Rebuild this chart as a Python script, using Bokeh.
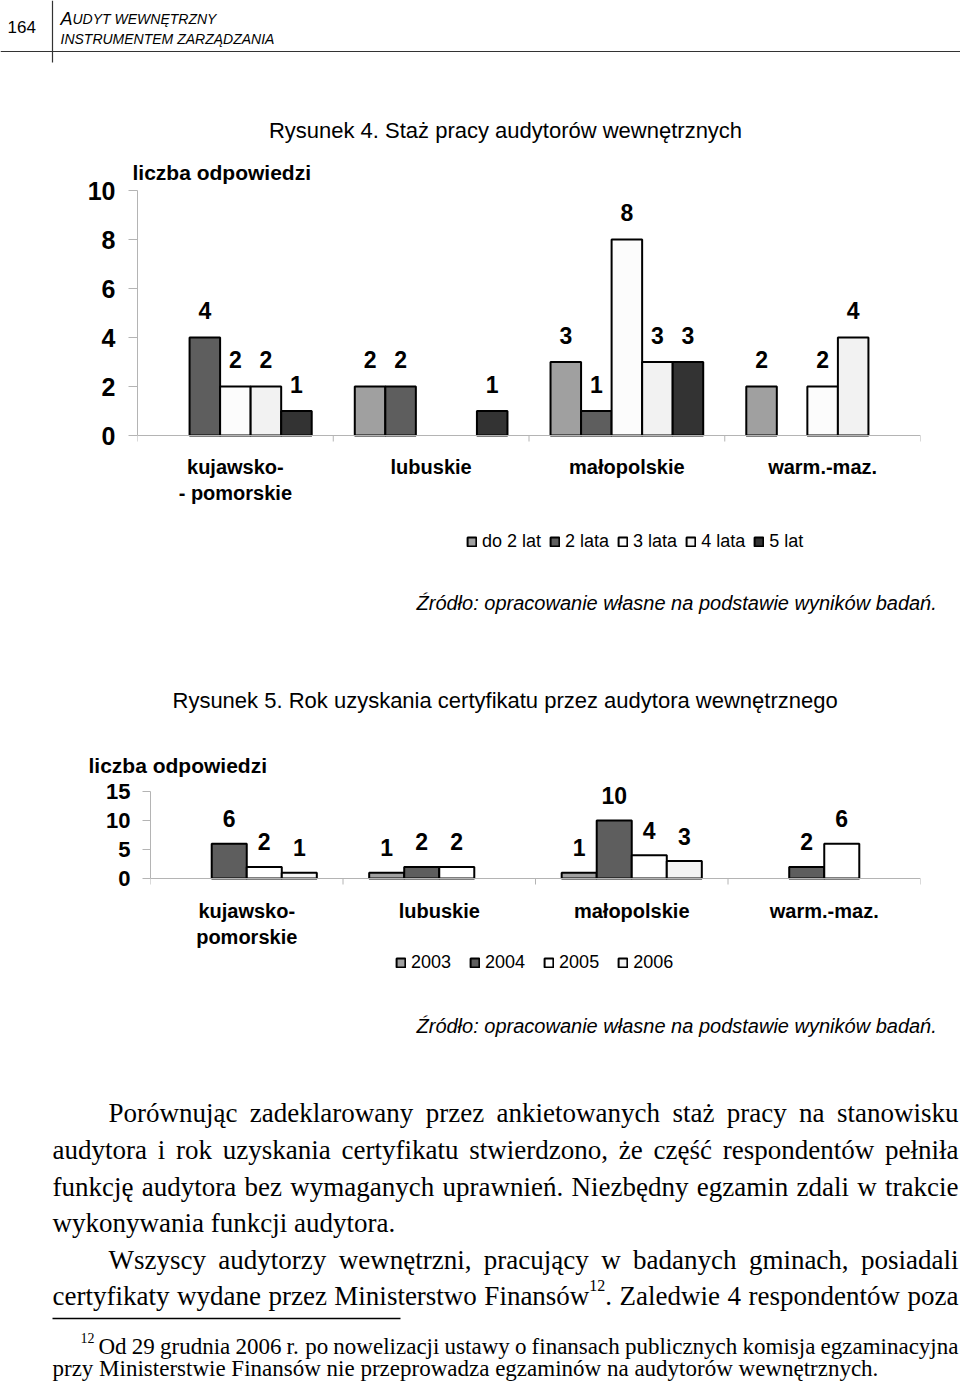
from bokeh.plotting import figure
from bokeh.models import ColumnDataSource, FactorRange, Range1d, Legend, LegendItem
from bokeh.layouts import column
from bokeh.transform import dodge
from bokeh.embed import file_html
from bokeh.resources import INLINE
from bokeh.core.properties import value

SANS = "Liberation Sans"
SERIF = "Liberation Serif"

# ---------------- Rysunek 4 data ----------------
regions4 = ["kujawsko-\n- pomorskie", "lubuskie", "małopolskie", "warm.-maz."]
series4 = ["do 2 lat", "2 lata", "3 lata", "4 lata", "5 lat"]
do_2_lat = [0, 2, 3, 2]
lata_2 = [4, 2, 1, 0]
lata_3 = [2, 0, 8, 2]
lata_4 = [2, 0, 3, 4]
lat_5 = [1, 1, 3, 0]
colors4 = ["#a0a0a0", "#5e5e5e", "#fcfcfc", "#f2f2f2", "#333333"]
yticks4 = [0, 2, 4, 6, 8, 10]

# ---------------- Rysunek 5 data ----------------
regions5 = ["kujawsko-\npomorskie", "lubuskie", "małopolskie", "warm.-maz."]
series5 = ["2003", "2004", "2005", "2006"]
y2003 = [0, 1, 1, 0]
y2004 = [6, 2, 10, 2]
y2005 = [2, 2, 4, 6]
y2006 = [1, 0, 3, 0]
colors5 = ["#a0a0a0", "#5e5e5e", "#ffffff", "#f4f4f4"]
yticks5 = [0, 5, 10, 15]

AXIS_GRAY = "#b4b4b4"


def make_chart(regions, series, values, colors, yticks, ymin, ymax, ybound, top, frame_h,
               left, slot, tick_size, label_size, label_gap, tick_out, standoff,
               title_offset, title_standoff, cat_standoff, legend_xy, legend_spacing,
               sep_len):
    xr = FactorRange(factors=regions, range_padding=0)
    p = figure(width=960, height=top + frame_h, x_range=xr,
               y_range=Range1d(ymin, ymax), output_backend="svg", toolbar_location=None,
               min_border_left=left, min_border_right=40, min_border_top=top,
               min_border_bottom=0, title="liczba odpowiedzi", frame_align=False)
    p.title.text_font = SANS
    p.title.text_font_size = "21px"
    p.title.text_font_style = "bold"
    p.title.text_color = "black"
    p.title.align = "left"
    p.title.offset = title_offset
    p.title.standoff = title_standoff
    p.outline_line_color = None
    p.xgrid.grid_line_color = None
    p.ygrid.grid_line_color = None
    p.background_fill_color = "white"
    p.border_fill_color = "white"

    p.yaxis.ticker = yticks
    p.yaxis.bounds = (0, ybound)
    p.yaxis.axis_line_color = AXIS_GRAY
    p.yaxis.major_tick_line_color = AXIS_GRAY
    p.yaxis.major_tick_out = tick_out
    p.yaxis.major_tick_in = 0
    p.yaxis.minor_tick_line_color = None
    p.yaxis.major_label_text_font = SANS
    p.yaxis.major_label_text_font_style = "bold"
    p.yaxis.major_label_text_font_size = tick_size
    p.yaxis.major_label_text_color = "black"
    p.yaxis.major_label_standoff = standoff

    p.xaxis.fixed_location = 0
    p.xaxis.axis_line_color = AXIS_GRAY
    p.xaxis.major_tick_line_color = None
    p.xaxis.minor_tick_line_color = None
    p.xaxis.major_label_text_font = SANS
    p.xaxis.major_label_text_font_style = "bold"
    p.xaxis.major_label_text_font_size = "20px"
    p.xaxis.major_label_text_color = "black"
    p.xaxis.major_label_standoff = cat_standoff
    p.xaxis.major_label_orientation = "horizontal"

    # category boundary tick marks below the x axis (between groups)
    sep_src = ColumnDataSource(dict(x=list(regions), y0=[0] * len(regions),
                                    y1=[-sep_len] * len(regions)))
    p.segment(x0=dodge("x", -0.5, range=p.x_range), x1=dodge("x", -0.5, range=p.x_range),
              y0="y0", y1="y1", source=sep_src, line_color=AXIS_GRAY, line_width=1)
    end_src = ColumnDataSource(dict(x=[regions[-1]], y0=[0], y1=[-sep_len]))
    p.segment(x0=dodge("x", 0.5, range=p.x_range), x1=dodge("x", 0.5, range=p.x_range),
              y0="y0", y1="y1", source=end_src, line_color=AXIS_GRAY, line_width=1)

    n = len(series)
    items = []
    for i, (s, vals, c) in enumerate(zip(series, values, colors)):
        xs = [r for r, v in zip(regions, vals) if v > 0]
        tops = [v for v in vals if v > 0]
        src = ColumnDataSource(dict(x=xs, top=tops, label=[str(v) for v in tops]))
        off = (i - (n - 1) / 2.0) * slot
        r = p.vbar(x=dodge("x", off, range=p.x_range), top="top", width=slot, source=src,
                   fill_color=c, line_color="black", line_width=2)
        p.text(x=dodge("x", off, range=p.x_range), y="top", text="label", source=src,
               text_align="center", text_baseline="alphabetic", y_offset=-label_gap,
               text_font=value(SANS), text_font_style="bold", text_font_size=label_size,
               text_color="black")
        items.append(LegendItem(label=s, renderers=[r]))

    legend = Legend(items=items, location=legend_xy,
                    orientation="horizontal", glyph_width=11, glyph_height=11,
                    label_standoff=5, label_height=20, spacing=legend_spacing,
                    padding=0, margin=0, border_line_color=None,
                    background_fill_alpha=0, label_text_font=SANS,
                    label_text_font_size="18px", label_text_color="black")
    p.add_layout(legend)
    return p


# ---------------- helpers for page text ----------------
TIMES = {
    " ": 250, ",": 250, ".": 250, ":": 278, "-": 333,
    "a": 444, "b": 500, "c": 444, "d": 500, "e": 444, "f": 333, "g": 500, "h": 500,
    "i": 278, "j": 278, "k": 500, "l": 278, "m": 778, "n": 500, "o": 500, "p": 500,
    "q": 500, "r": 333, "s": 389, "t": 278, "u": 500, "v": 500, "w": 722, "x": 500,
    "y": 500, "z": 444,
    "A": 722, "B": 667, "C": 667, "D": 722, "E": 611, "F": 556, "G": 722, "H": 722,
    "I": 333, "J": 389, "K": 722, "L": 611, "M": 889, "N": 722, "O": 722, "P": 556,
    "Q": 722, "R": 667, "S": 556, "T": 611, "U": 722, "V": 722, "W": 944, "X": 722,
    "Y": 722, "Z": 611,
    "ą": 444, "ć": 444, "ę": 444, "ł": 278, "ń": 500, "ó": 500, "ś": 389, "ź": 444,
    "ż": 444,
}


def tw(s, size):
    return sum(TIMES.get(ch, 500) for ch in s) / 1000.0 * size


def text_fig(y_top, y_bottom):
    p = figure(width=960, height=y_bottom - y_top, x_range=Range1d(0, 960),
               y_range=Range1d(y_bottom, y_top), output_backend="svg",
               toolbar_location=None, x_axis_type=None, y_axis_type=None,
               min_border=0, min_border_left=0, min_border_right=0,
               min_border_top=0, min_border_bottom=0, frame_align=False)
    p.outline_line_color = None
    p.grid.visible = False
    p.background_fill_color = "white"
    p.border_fill_color = "white"
    return p


def put(p, txt, x, y, size, font=SANS, style="normal", align="left", color="black"):
    p.text(x=[x], y=[y], text=[txt], text_font=value(font), text_font_size=f"{size}px",
           text_font_style=style, text_align=align, text_baseline="alphabetic",
           text_color=color)


def put_line(p, text, x0, x1, y, size, justify):
    words = text.split(" ")
    parts = []
    for w in words:
        if "^" in w:
            base, rest = w.split("^")
            sup = "".join(ch for ch in rest if ch.isdigit())
            tail = rest[len(sup):]
            parts.append((base, sup, tail))
        else:
            parts.append((w, "", ""))
    ssz = round(size * 0.6)
    widths = [tw(b, size) + tw(s, ssz) + tw(t, size) for b, s, t in parts]
    if justify and len(parts) > 1:
        gap = (x1 - x0 - sum(widths)) / (len(parts) - 1)
    else:
        gap = 0.25 * size
    xs, ys, ts = [], [], []
    sx, sy, st = [], [], []
    x = x0
    for (b, s, t), w in zip(parts, widths):
        xs.append(x); ys.append(y); ts.append(b)
        if s:
            xb = x + tw(b, size)
            sx.append(xb); sy.append(y - size * 0.38); st.append(s)
            xt = xb + tw(s, ssz)
            xs.append(xt); ys.append(y); ts.append(t)
        x += w + gap
    p.text(x=xs, y=ys, text=ts, text_font=value(SERIF), text_font_size=f"{size}px",
           text_baseline="alphabetic", text_align="left", text_color="black")
    if sx:
        p.text(x=sx, y=sy, text=st, text_font=value(SERIF), text_font_size=f"{ssz}px",
               text_baseline="alphabetic", text_align="left", text_color="black")


SOURCE = "Źródło: opracowanie własne na podstawie wyników badań."

# ---------------- header + title 4 (page y 0..150) ----------------
t1 = text_fig(0, 150)
t1.segment(x0=[52, 0], y0=[0, 51], x1=[52, 960], y1=[62, 51], line_color="#333333",
           line_width=1.2)
put(t1, "164", 7, 26, 17)
put(t1, "A", 60, 18, 18, style="italic")
put(t1, "UDYT WEWNĘTRZNY", 72, 18, 14, style="italic")
put(t1, "INSTRUMENTEM ZARZĄDZANIA", 60, 38, 14, style="italic")
put(t1, "Rysunek 4. Staż pracy audytorów wewnętrznych", 505, 130, 22, align="center")

# ---------------- chart 4 (page y 150..560; frame 190..560, zero at 435) ----------------
c1 = make_chart(regions4, series4, [do_2_lat, lata_2, lata_3, lata_4, lat_5], colors4,
                yticks4, -125 / 24.5, 10, 10, top=40, frame_h=370, left=137, slot=0.156,
                tick_size="25px", label_size="23px", label_gap=27, tick_out=9,
                standoff=13, title_offset=-5, title_standoff=13, cat_standoff=14,
                legend_xy=(329, 8), legend_spacing=8, sep_len=6 / 24.5)

# ---------------- source 4 + title 5 (page y 560..740) ----------------
t2 = text_fig(560, 740)
put(t2, SOURCE, 416, 602, 20, style="italic")
put(t2, "Rysunek 5. Rok uzyskania certyfikatu przez audytora wewnętrznego", 172, 700, 22)

# ---------------- chart 5 (page y 740..976; frame 782..976, zero at 878) ----------------
c2 = make_chart(regions5, series5, [y2003, y2004, y2005, y2006], colors5,
                yticks5, -98 / 5.8, 96 / 5.8, 15, top=42, frame_h=194, left=150,
                slot=0.182, tick_size="22px", label_size="23px", label_gap=25,
                tick_out=8, standoff=12, title_offset=-62, title_standoff=12,
                cat_standoff=15, legend_xy=(245, 3), legend_spacing=18, sep_len=6 / 5.8)

# ---------------- source 5 + body text (page y 976..1381) ----------------
t3 = text_fig(976, 1381)
put(t3, SOURCE, 416, 1025, 20, style="italic")

body_lines = [
    "Porównując zadeklarowany przez ankietowanych staż pracy na stanowisku",
    "audytora i rok uzyskania certyfikatu stwierdzono, że część respondentów pełniła",
    "funkcję audytora bez wymaganych uprawnień. Niezbędny egzamin zdali w trakcie",
    "wykonywania funkcji audytora.",
    "Wszyscy audytorzy wewnętrzni, pracujący w badanych gminach, posiadali",
    "certyfikaty wydane przez Ministerstwo Finansów^12. Zaledwie 4 respondentów poza",
]
body_x0 = [108, 52, 52, 52, 108, 52]
body_justify = [True, True, True, False, True, True]
body_y = [1112, 1149, 1186, 1222, 1259, 1295]
for line, x0, j, y in zip(body_lines, body_x0, body_justify, body_y):
    put_line(t3, line, x0, 958, y, 27, j)

t3.segment(x0=[52], y0=[1318], x1=[400], y1=[1318], line_color="black", line_width=1.5)
put(t3, "12", 80, 1337, 14, font=SERIF)
put_line(t3, "Od 29 grudnia 2006 r. po nowelizacji ustawy o finansach publicznych komisja egzaminacyjna",
         98, 958, 1346, 23, True)
put_line(t3, "przy Ministerstwie Finansów nie przeprowadza egzaminów na audytorów wewnętrznych.",
         52, 958, 1368, 23, False)

page = column(t1, c1, t2, c2, t3, spacing=0)
open("out.html", "w").write(file_html(page, INLINE))
